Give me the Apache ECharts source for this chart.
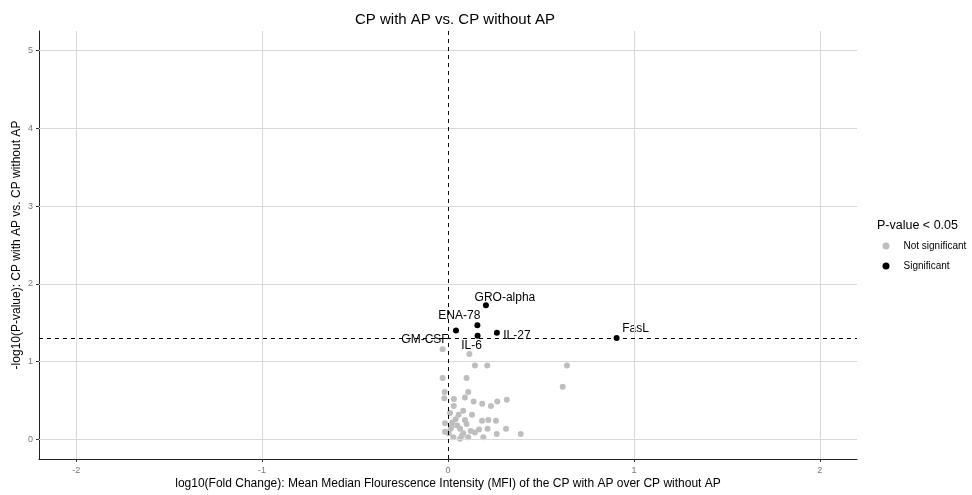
<!DOCTYPE html>
<html>
<head>
<meta charset="utf-8">
<script src="https://cdn.jsdelivr.net/npm/echarts@6/dist/echarts.min.js"></script>
<style>
  html, body { margin: 0; padding: 0; background: #fff; }
  #chart { width: 972px; height: 495px; }
</style>
</head>
<body>
<div id="chart"></div>
<script>
// significant cytokines (labelled)
var sigNames = ['GRO-alpha', 'ENA-78', 'GM-CSF', 'IL-6', 'IL-27', 'FasL'];
var sigX = [0.204, 0.158, 0.043, 0.159, 0.263, 0.907];
var sigY = [1.726, 1.47, 1.40, 1.334, 1.372, 1.304];

// not significant ones
var nsX = [-0.029, 0.115, 0.145, 0.211, 0.64, 0.617, -0.029, 0.10, -0.018, 0.109,
  -0.02, 0.032, 0.091, 0.138, 0.184, 0.031, 0.082, 0.011, 0.057, 0.129,
  0.041, 0.091, 0.183, 0.023, -0.016, 0.014, 0.065, 0.122, 0.167, 0.082,
  0.145, 0.004, 0.029, 0.065, 0.109, 0.19, -0.016, 0.265, 0.316, 0.231,
  0.217, 0.258, 0.213, 0.312, 0.262, 0.391, 0.05, 0.02, 0.075, 0.1];
var nsY = [1.16, 1.10, 0.95, 0.95, 0.95, 0.68, 0.79, 0.79, 0.61, 0.61,
  0.53, 0.52, 0.54, 0.49, 0.46, 0.43, 0.37, 0.34, 0.32, 0.32,
  0.26, 0.25, 0.24, 0.22, 0.21, 0.14, 0.14, 0.11, 0.13, 0.08,
  0.09, 0.08, 0.03, 0.01, 0.03, 0.03, 0.10, 0.49, 0.51, 0.43,
  0.25, 0.24, 0.14, 0.14, 0.07, 0.07, 0.18, 0.17, 0.05, 0.2];

var xTicks = [-2, -1, 0, 1, 2];
var yTicks = [0, 1, 2, 3, 4, 5];
var pCut = -Math.log10(0.05);

// label nudges, like ggrepel put them
var labelOffsets = [[19, -8], [-18, -9], [-31, 9], [-6, 10], [20, 3], [19, -9]];

var font = 'Liberation Sans, Arial, sans-serif';
var chart = echarts.init(document.getElementById('chart'));

var nsData = nsX.map(function (x, i) { return [x, nsY[i]]; });
var sigData = sigX.map(function (x, i) {
  return {
    name: sigNames[i],
    value: [x, sigY[i]],
    label: { offset: labelOffsets[i] }
  };
});

chart.setOption({
  animation: false,
  title: {
    text: 'CP with AP vs. CP without AP',
    left: 450, top: 7, textAlign: 'center',
    textStyle: { fontFamily: font, fontSize: 15, fontWeight: 'normal', color: '#000' }
  },
  legend: {
    orient: 'vertical',
    left: 882.5, top: 241, padding: 0,
    itemWidth: 7, itemHeight: 7, itemGap: 10,
    data: [
      { name: 'Not significant', icon: 'circle' },
      { name: 'Significant', icon: 'circle' }
    ],
    textStyle: { fontFamily: font, fontSize: 10, color: '#000', padding: [0, 0, 0, 9] }
  },
  graphic: [{
    type: 'text', left: 877, top: 219,
    style: { text: 'P-value < 0.05', font: '12.5px ' + font, fill: '#000' }
  }],
  grid: { left: 39, right: 115, top: 31, bottom: 36 },
  xAxis: {
    type: 'value', min: -2.2, max: 2.2,
    name: 'log10(Fold Change): Mean Median Flourescence Intensity (MFI) of the CP with AP over CP without AP',
    nameLocation: 'middle', nameGap: 19, nameMoveOverlap: false,
    nameTextStyle: { fontFamily: font, fontSize: 12, color: '#000' },
    axisLine: { onZero: false, lineStyle: { color: '#222', width: 1 } },
    axisTick: { show: true, length: 3, lineStyle: { color: '#333' }, customValues: xTicks },
    axisLabel: { fontFamily: font, fontSize: 9, color: '#777', margin: 7, customValues: xTicks },
    splitLine: { show: false }
  },
  yAxis: {
    type: 'value', min: -0.25, max: 5.25,
    name: '-log10(P-value): CP with AP vs. CP without AP',
    nameLocation: 'middle', nameGap: 16, nameMoveOverlap: false,
    nameTextStyle: { fontFamily: font, fontSize: 12, color: '#000' },
    axisLine: { show: true, onZero: false, lineStyle: { color: '#222', width: 1 } },
    axisTick: { show: true, length: 3, lineStyle: { color: '#333' }, customValues: yTicks },
    axisLabel: { fontFamily: font, fontSize: 9, color: '#777', margin: 6, customValues: yTicks },
    splitLine: { show: false }
  },
  series: [
    {
      // grid lines at the whole-unit ticks
      type: 'scatter', data: [], silent: true,
      markLine: {
        silent: true, symbol: 'none', label: { show: false },
        lineStyle: { color: '#d9d9d9', width: 1, type: 'solid' },
        data: xTicks.filter(function (v) { return v !== 0; }).map(function (v) { return { xAxis: v }; })
          .concat(yTicks.map(function (v) { return { yAxis: v }; }))
      }
    },
    {
      name: 'Not significant', type: 'scatter',
      symbolSize: 6,
      itemStyle: { color: '#bebebe', opacity: 1 },
      data: nsData
    },
    {
      name: 'Significant', type: 'scatter',
      symbolSize: 6,
      itemStyle: { color: '#000', opacity: 1 },
      label: {
        show: true, position: 'inside',
        formatter: '{b}',
        fontFamily: font, fontSize: 12, color: '#000'
      },
      data: sigData,
      markLine: {
        silent: true, symbol: 'none', label: { show: false },
        lineStyle: { color: '#000', width: 1, type: [4, 4] },
        data: [{ xAxis: 0 }, { yAxis: pCut }]
      }
    }
  ]
});
</script>
</body>
</html>
